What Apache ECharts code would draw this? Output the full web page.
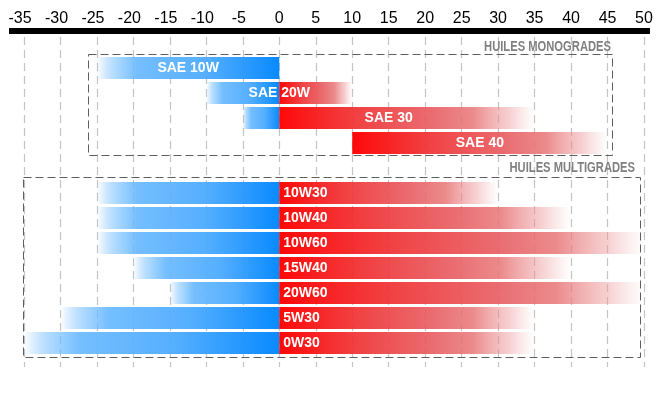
<!DOCTYPE html>
<html>
<head>
<meta charset="utf-8">
<script src="https://cdn.jsdelivr.net/npm/echarts@6/dist/echarts.min.js"></script>
<style>html,body{margin:0;padding:0;background:#fff}#c{width:670px;height:400px}</style>
</head>
<body>
<div id="c"></div>
<script>
// ---- data ----
const tickMin = -35, tickMax = 50, tickStep = 5;
const monoNames = ['SAE 10W', 'SAE 20W', 'SAE 30', 'SAE 40'];
const monoLow   = [-25, -10, -5, 10];
const monoHigh  = [0, 10, 35, 45];
const multiNames = ['10W30', '10W40', '10W60', '15W40', '20W60', '5W30', '0W30'];
const multiLow   = [-25, -25, -25, -20, -15, -30, -35];
const multiHigh  = [30, 40, 50, 40, 50, 35, 35];
const groupTitles = ['HUILES MONOGRADES', 'HUILES MULTIGRADES'];

const monoRows = monoNames.map((n, i) => i);
const multiRows = multiNames.map((n, i) => i + monoNames.length + 1);

const FONT = '"Liberation Sans", Arial, sans-serif';
const chart = echarts.init(document.getElementById('c'), null, {renderer: 'canvas'});

function blueGrad() {
  return new echarts.graphic.LinearGradient(0, 0, 1, 0, [
    {offset: 0, color: 'rgba(60,160,255,0)'},
    {offset: 0.1, color: 'rgba(110,188,255,0.55)'},
    {offset: 0.22, color: 'rgba(105,185,255,0.92)'},
    {offset: 0.6, color: 'rgba(75,170,255,0.95)'},
    {offset: 1, color: 'rgba(0,134,255,0.97)'}
  ]);
}
function redGrad() {
  return new echarts.graphic.LinearGradient(0, 0, 1, 0, [
    {offset: 0, color: 'rgba(255,0,0,0.97)'},
    {offset: 0.3, color: 'rgba(240,50,52,0.93)'},
    {offset: 0.6, color: 'rgba(232,96,100,0.92)'},
    {offset: 0.76, color: 'rgba(232,118,120,0.85)'},
    {offset: 0.9, color: 'rgba(236,150,152,0.45)'},
    {offset: 1, color: 'rgba(240,170,170,0)'}
  ]);
}

function makeRender(names, centered) {
  return function (params, api) {
    const row = api.value(0), low = api.value(1), high = api.value(2);
    const h = api.size([0, 0.88])[1];
    const yc = api.coord([0, row])[1];
    const y = yc - h / 2;
    const children = [];
    if (low < 0) {
      const x0 = api.coord([low, row])[0], x1 = api.coord([Math.min(high, 0), row])[0];
      children.push({type: 'rect', shape: {x: x0, y: y, width: x1 - x0, height: h}, style: {fill: blueGrad()}});
    }
    if (high > 0) {
      const s = Math.max(low, 0);
      const x0 = api.coord([s, row])[0], x1 = api.coord([high, row])[0];
      children.push({type: 'rect', shape: {x: x0, y: y, width: x1 - x0, height: h}, style: {fill: redGrad()}});
    }
    let tx, align;
    if (centered) {
      tx = (api.coord([low, row])[0] + api.coord([high, row])[0]) / 2; align = 'center';
    } else {
      tx = api.coord([0, row])[0] + 4; align = 'left';
    }
    children.push({type: 'text', style: {
      text: names[params.dataIndex], x: tx, y: yc, fill: '#fff',
      fontSize: 14, fontWeight: 'bold', fontFamily: FONT, align: align, verticalAlign: 'middle'
    }});
    return {type: 'group', children: children};
  };
}

chart.setOption({
  animation: false,
  backgroundColor: '#fff',
  grid: {left: 24, right: 26, top: 37, bottom: 33},
  xAxis: {
    type: 'value', position: 'top', min: tickMin, max: tickMax, interval: tickStep, offset: 6,
    axisLine: {show: false}, axisTick: {show: false},
    axisLabel: {
      margin: 4, color: '#000', fontSize: 16, fontFamily: FONT,
      formatter: v => v < 0 ? '{n|' + v + '}' : String(v),
      rich: {n: {fontSize: 16, fontFamily: FONT, color: '#000', padding: [0, 8, 0, 0]}}
    },
    splitLine: {show: true, lineStyle: {color: '#c4c4c4', width: 1.2, type: [8, 5]}}
  },
  yAxis: {type: 'value', inverse: true, min: -1.24, max: 11.96, show: false},
  graphic: [
    {type: 'rect', shape: {x: 9, y: 28, width: 641, height: 6}, style: {fill: '#000'}, z: 10},
    {type: 'rect', shape: {x: 88.5, y: 54.5, width: 524, height: 101}, style: {fill: 'none', stroke: '#5e5e5e', lineWidth: 1, lineDash: [8, 4]}, z: 10},
    {type: 'rect', shape: {x: 23.5, y: 177.5, width: 617, height: 180}, style: {fill: 'none', stroke: '#5e5e5e', lineWidth: 1, lineDash: [8, 4]}, z: 10},
    {type: 'text', x: 611, y: 47, scaleX: 0.8, style: {text: groupTitles[0], x: 0, y: 0, fill: '#808080', fontSize: 14, fontWeight: 'bold', fontFamily: FONT, align: 'right', verticalAlign: 'middle'}, z: 10},
    {type: 'text', x: 635, y: 168, scaleX: 0.8, style: {text: groupTitles[1], x: 0, y: 0, fill: '#808080', fontSize: 14, fontWeight: 'bold', fontFamily: FONT, align: 'right', verticalAlign: 'middle'}, z: 10}
  ],
  series: [
    {type: 'custom', name: 'mono', renderItem: makeRender(monoNames, true),
     encode: {x: [1, 2], y: 0},
     data: monoNames.map((n, i) => [monoRows[i], monoLow[i], monoHigh[i]])},
    {type: 'custom', name: 'multi', renderItem: makeRender(multiNames, false),
     encode: {x: [1, 2], y: 0},
     data: multiNames.map((n, i) => [multiRows[i], multiLow[i], multiHigh[i]])}
  ]
});
</script>
</body>
</html>
